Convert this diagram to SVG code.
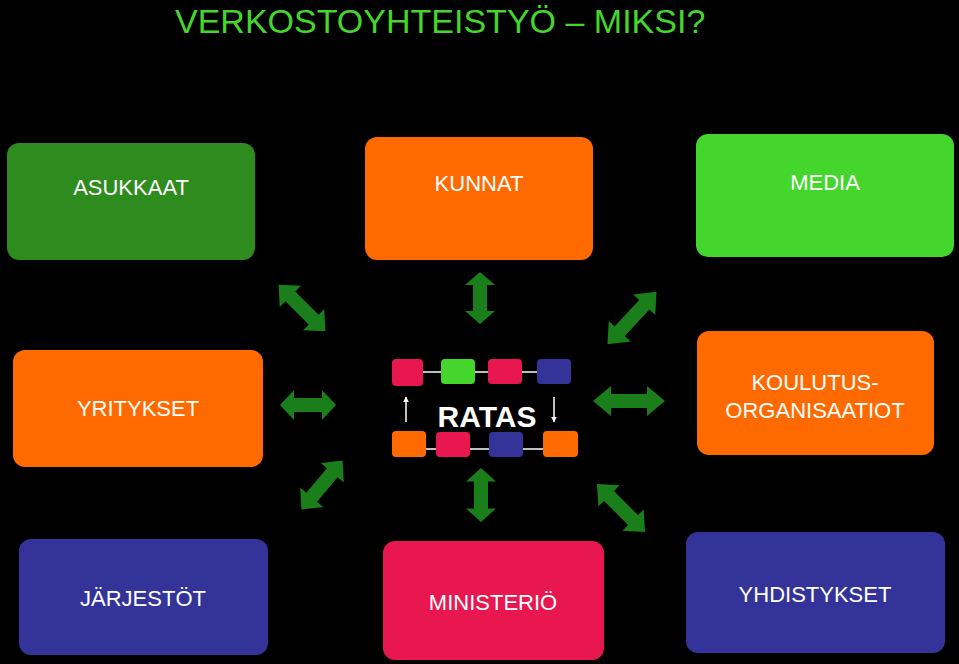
<svg xmlns="http://www.w3.org/2000/svg" width="959" height="664" viewBox="0 0 959 664">
<style>
text{font-family:"Liberation Sans",Arial,sans-serif}
.n{font-size:22px;fill:#fff;text-anchor:middle}
.da{fill:#1a7f1a}
.w{stroke:#fff;stroke-width:1.5}
</style>
<defs>
<polygon id="da" points="-1,0 -0.5,-15 -0.5,-7 0.5,-7 0.5,-15 1,0 0.5,15 0.5,7 -0.5,7 -0.5,15"/>
<marker id="wh" viewBox="0 0 10 10" refX="9" refY="5" markerWidth="4" markerHeight="4" orient="auto"><path d="M0,0L10,5L0,10z" fill="#fff"/></marker>
</defs>
<rect width="959" height="664" fill="#000"/>
<text x="175" y="33" font-size="34" fill="#44d62c">VERKOSTOYHTEISTYÖ – MIKSI?</text>
<g id="asukkaat"><rect x="7" y="143" width="248" height="117" rx="12" fill="#2e8b1e"/><text class="n" x="131" y="195">ASUKKAAT</text></g>
<g id="kunnat"><rect x="365" y="137" width="228" height="123" rx="12" fill="#ff6a00"/><text class="n" x="479" y="191">KUNNAT</text></g>
<g id="media"><rect x="696" y="134" width="258" height="123" rx="12" fill="#44d62c"/><text class="n" x="825" y="190">MEDIA</text></g>
<g id="yritykset"><rect x="13" y="350" width="250" height="117" rx="12" fill="#ff6a00"/><text class="n" x="138" y="416">YRITYKSET</text></g>
<g id="koulutus"><rect x="697" y="331" width="237" height="124" rx="12" fill="#ff6a00"/><text class="n" x="815" y="390">KOULUTUS-</text><text class="n" x="815" y="418">ORGANISAATIOT</text></g>
<g id="jarjestot"><rect x="19" y="539" width="249" height="116" rx="12" fill="#33339a"/><text class="n" x="143" y="606">JÄRJESTÖT</text></g>
<g id="ministerio"><rect x="383" y="541" width="221" height="119" rx="12" fill="#e8174f"/><text class="n" x="493" y="610">MINISTERIÖ</text></g>
<g id="yhdistykset"><rect x="686" y="532" width="259" height="121" rx="12" fill="#33339a"/><text class="n" x="815" y="602">YHDISTYKSET</text></g>
<g id="ratas">
<g class="w"><line x1="423" y1="372" x2="441" y2="372"/><line x1="475" y1="372" x2="488" y2="372"/><line x1="522" y1="372" x2="537" y2="372"/>
<line x1="426" y1="449" x2="436" y2="449"/><line x1="470" y1="449" x2="489" y2="449"/><line x1="523" y1="449" x2="543" y2="449"/>
<line x1="406" y1="422" x2="406" y2="397" marker-end="url(#wh)"/><line x1="554" y1="397" x2="554" y2="422" marker-end="url(#wh)"/></g>
<rect x="392" y="359" width="31" height="27" rx="4" fill="#e8174f"/>
<rect x="441" y="359" width="34" height="25" rx="4" fill="#44d62c"/>
<rect x="488" y="359" width="34" height="25" rx="4" fill="#e8174f"/>
<rect x="537" y="359" width="34" height="25" rx="4" fill="#33339a"/>
<rect x="392" y="431" width="34" height="26" rx="4" fill="#ff6a00"/>
<rect x="436" y="432" width="34" height="25" rx="4" fill="#e8174f"/>
<rect x="489" y="432" width="34" height="25" rx="4" fill="#33339a"/>
<rect x="543" y="431" width="35" height="26" rx="4" fill="#ff6a00"/>
<text x="487" y="427" font-size="30" font-weight="bold" fill="#fff" text-anchor="middle">RATAS</text>
</g>
<g id="connectors" class="da">
<use href="#da" transform="translate(302,308) rotate(45) scale(33,1)"/>
<use href="#da" transform="translate(480,298) rotate(90) scale(26,1)"/>
<use href="#da" transform="translate(632,318) rotate(-47) scale(36,1)"/>
<use href="#da" transform="translate(308,405) scale(28,1)"/>
<use href="#da" transform="translate(629,401) scale(36,1)"/>
<use href="#da" transform="translate(322,485) rotate(-50) scale(32,1)"/>
<use href="#da" transform="translate(481,495) rotate(90) scale(27,1)"/>
<use href="#da" transform="translate(621,508) rotate(45) scale(34,1)"/>
</g>
</svg>
